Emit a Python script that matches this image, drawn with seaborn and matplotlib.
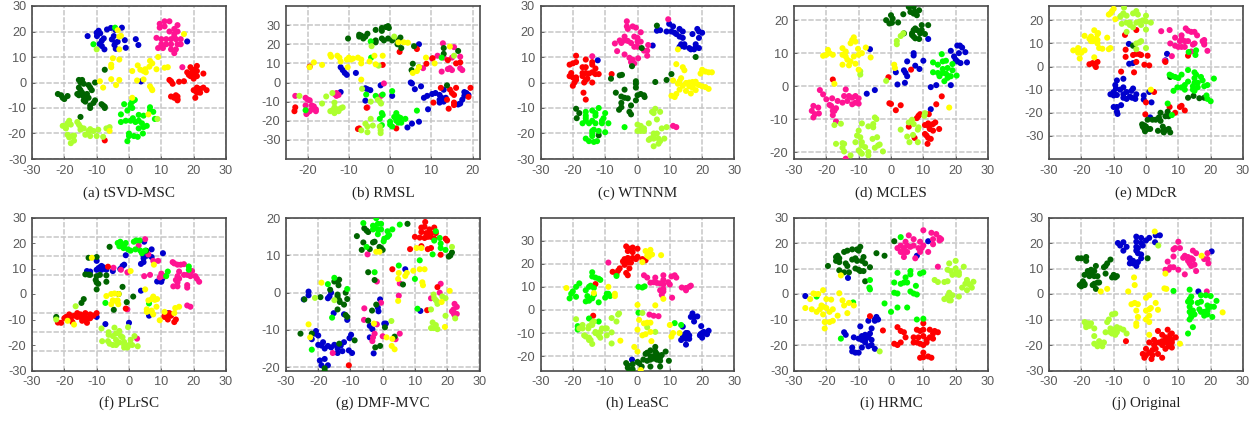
import pandas as pd
import seaborn as sns
import matplotlib
matplotlib.use("Agg")
import matplotlib.pyplot as plt

# colores de las 7 clases
class_colors = {"blue": "#0000cd", "pink": "#ff1493", "red": "#ff0000", "dgreen": "#006400",
                "green": "#00ff00", "lime": "#adff2f", "yellow": "#ffff00"}

# (a) tSVD-MSC
a_blue = [(-12.8,18.2),(-9.9,18.2),(-10,19.5),(-9.4,20.3),(-8.9,19.3),(-6.8,20.8),(-5.6,21.4),(-4.2,20.6),(-2.2,21.5),(-7.8,17.3),(-8.4,16.4),(-4.7,18.2),(-5.3,16.9),(-3.5,16),(-4.2,15.6),(-9.1,15.1),(-8.4,14.3),(-7.6,13),(-4.5,14.7),(-4.1,13.2),(-1.3,16.6),(-1,13.6),(2.1,17),(2.9,14.7),(18,16.1),(3.7,0.4)]
a_pink = [(9.5,23),(11,24),(12.5,24),(9.5,21.5),(11,22),(12.5,20),(14,21),(15,20),(15,22.5),(14,19),(14,18),(8.5,17.5),(10,17),(11.5,17),(13,17),(14.5,17),(16,17),(10,15),(11.5,15),(13,15),(15,15),(16,15),(9,13.5),(10.5,13.5),(13,13),(14.5,13),(14,11.5),(16.5,6)]
a_red = [(19,6),(21,6.5),(20,5),(18,4),(19.5,4),(21,4.5),(23,3.5),(18.5,3),(20,3),(21,2.5),(20,1.5),(19,2.5),(12.5,1),(13,0.5),(13.5,-0.5),(15.5,0.3),(17,0.5),(21,-2),(20,-3),(22,-2.5),(23,-2),(24,-3),(21,-4),(22,-4),(20.5,-6),(13,-5.5),(14.5,-5),(15,-5.5),(15,-6.5),(15,-7),(14,-6),(-7.5,-22.7)]
a_yellow = [(-5,9.5),(-3,9),(-5.5,7),(-5.5,6),(-9,0.5),(-5.5,1.3),(-4,-1),(-3,1),(-8,-2),(1,4.5),(2.7,6.7),(3.5,5),(4.5,4.5),(5.2,4),(5,5.2),(6.3,6.2),(6.5,8.5),(7.2,7.5),(8.5,5.2),(9,10),(11,5.8),(12,6),(2.5,0.8),(4.5,1.2),(6.5,-1.5),(7,-2.5),(7.2,-3),(1,-6),(6,-12.5),(-6,-19),(17,19),(-3.5,20.5),(-3,18),(-2.5,18.3),(-3,13)]
a_green = [(-1.5,-8.5),(0.5,-8.5),(1,-7.5),(1.5,-7),(1.8,-6.8),(0.5,-9.5),(1,-10),(-0.5,-11),(-2.5,-12.5),(6.5,-9.7),(6.5,-11),(7.5,-11.5),(3,-12.7),(4.5,-13),(8,-14.3),(-2.5,-15.5),(-1,-15),(0.5,-15),(1.2,-14),(2,-15.5),(3,-15),(4,-16),(4.5,-17.5),(5.5,-17),(3,-18),(0,-20),(0,-21),(1.5,-21),(2.7,-21.3),(4.3,-20),(-0.5,-23),(-11,15),(-4.3,21.5)]
a_lime = [(8.8,-14.3),(-10,13),(-20.5,-17),(-19.5,-17),(-19,-16),(-18.5,-15),(-18,-16.5),(-19.5,-18),(-16,-15.5),(-15.5,-16.5),(-15,-17.5),(-15,-18.5),(-14,-18),(-12.5,-19),(-12,-18.3),(-11,-19),(-9.5,-18.5),(-13.5,-20.5),(-12,-21),(-10,-21),(-8,-21.3),(-7,-18),(-6,-17.5),(-19,-20.5),(-18.5,-21.5),(-17.5,-21),(-18,-23.8),(-17,-22.8),(-17,-20.8)]
a_dgreen = [(-7.5,5),(-15.5,1),(-14.5,1),(-15,0),(-14,-0.5),(-10.5,0),(-12.5,-1),(-12,-2),(-11.5,-3),(-15.5,-2),(-15,-3),(-14.5,-4),(-16,-4.5),(-15.5,-5),(-14,-5.5),(-13,-4.5),(-12.5,-6),(-14,-7),(-13.5,-7.5),(-10.5,-7),(-11,-8),(-12,-9),(-12,-10),(-8.5,-8.5),(-8,-9),(-7.5,-9.5),(-7.5,-10),(-22,-4.5),(-21,-5),(-20.5,-6),(-20,-6.5),(-19,-5.3),(-15,-13.5)]

# (b) RMSL
b_dgreen = [(-10.2,23),(-7.5,25),(-7.5,24),(-7,24.5),(-6.5,23),(-6,24),(-5.5,25.5),(-3.5,27.5),(-3.5,22),(-3.5,21),(-2,28.5),(-2,27),(-1,29),(-0.5,29.5),(-0.3,28.5),(-2,23),(-1.5,22),(-0.5,23),(0.5,22),(2,22),(2.5,23.5),(2,21),(1.8,20),(2.7,18),(5.8,19),(5.5,9.8),(5.2,6.5),(13,18),(13,15),(16.5,16.5),(13.8,-1.5)]
b_yellow = [(-19.5,8),(-18.5,10.5),(-16.5,9.2),(-14.5,14.5),(-14.3,13.5),(-12.8,14),(-12.3,13),(-12,11),(-10.5,12),(-10,13),(-9.5,12),(-10.3,8),(-9,12.5),(-7.8,13),(-7,12),(-7,10),(-5,11),(-3.8,14),(-3.5,9.5),(-1.8,14),(-7,1.5),(2,21),(3.3,21),(4.3,20.8),(5.5,5),(6.5,6),(7,8),(8.7,13),(10.8,10),(14.5,18.8)]
b_blue = [(-12,8),(-11.5,6.5),(-11,5),(-10.5,4),(-8.3,5),(-12,-5),(-6,-3),(-5.5,-3.5),(-4.8,-4),(-2.3,-1.5),(-6,-9.5),(0.5,-7),(5,0),(5.3,-0.5),(6,-3.5),(7.5,-2),(8.2,-8),(9,-7),(10.2,-6),(11,-5.5),(12,-6.5),(12.5,-8),(12,-9),(12,-10.5),(13,-10),(13.5,-8),(13,-3.8),(9.2,-14),(7,-20.5),(5.3,-21.5),(4.2,-23.5),(7,20),(18,-5),(18.5,-5.5),(19,-6.5),(18,-7),(17.5,-9),(17,-11),(16.5,-11.5)]
b_red = [(-19.5,8.3),(-1.8,9.2),(2.3,16),(6.5,17.5),(8.8,9.8),(10.3,12.7),(14,11.7),(16,10),(17,10.5),(12.3,-2.8),(14.5,-3.7),(16,-2.8),(19.5,-2.8),(15,-5.5),(15.5,-6.5),(13.8,-9),(15.5,-10.5),(15.5,-11.8),(14.2,-13.7),(19,-7.5),(10.5,-10.5),(-23,-13),(-23.2,-15),(-7.5,-24),(-7.8,-24.3),(1.5,-24),(-5.7,-13.2)]
b_pink = [(-23,-7),(-20.5,-8),(-20,-9),(-19.5,-9.3),(-20.5,-12),(-19,-12),(-18.5,-12.5),(-19,-14),(-18,-14),(-18,-15),(-19.5,-15),(-20,-15.5),(-20.3,-16.5),(-13.5,-6),(-13,-5.5),(-12.5,-6.5),(-13,-7),(-1.5,-0.5),(-2.2,-7),(-5.5,-13),(8,7.5),(10.2,12.5),(11.5,14),(12.8,20.5),(13,13),(15,13),(15.5,18.5),(12.5,5.7),(14,7),(14.5,7.5),(15,6.5),(17,7.5),(17.5,6.5),(17,13.5)]
b_green = [(-4.7,21.5),(-4.6,13),(-20.5,-14.5),(-5.8,-6.3),(-3.5,-7),(-1.8,-6.3),(0.5,-4.5),(6.5,-14.7),(-2,-16),(-1.8,-17),(-2,-22.3),(-2.5,-19),(0,-20.5),(0,-22),(0.5,-23),(1,-18),(1.5,-16),(1.5,-19),(2,-18),(2,-21),(2.5,-18.5),(2.7,-21),(3.7,-19),(1.5,-20),(7,8),(12.5,13)]
b_lime = [(-22,-7),(-15.5,-7.3),(-14,-5.5),(-16.5,-11),(-14.5,-15),(-14,-14.5),(-13.5,-10.5),(-13.5,-13),(-13.5,-16),(-13,-14),(-12.5,-15),(-12,-13.5),(-11.5,-13),(-6.8,-3.3),(-4.7,-10),(-3,-9),(-2.5,-10),(-2.2,-11),(-4.7,-19),(-6,-21.5),(-5.5,-23),(-4.2,-22.5),(-7,-25),(-5.5,-26),(-2.5,-23),(-2.3,-25),(-2.3,-26.5),(1,24),(-4.5,19),(-2.8,8.8),(15.5,14)]

# (c) WTNNM
c_blue = [(-12.3,8.7),(4.7,14.5),(6,20.3),(7,20.5),(9,20),(9.8,23),(11,22),(10.5,20),(11.5,19.5),(12,19),(13,21),(14,20),(13,18),(14,17.5),(13.5,15),(14.5,15),(13,14),(14.5,14),(16,13.5),(16.5,13),(17.5,13),(18,15),(18,14),(19,13.5),(17,19),(18.5,21),(19,20),(19,17.5),(20,19.5)]
c_pink = [(9.5,24.8),(-3.3,24),(-3.3,22),(-3,21),(-1.5,22),(-0.5,21.5),(1,19.7),(-7,15.3),(-5.5,16.5),(-5,15.5),(-4,18),(-4,16.5),(-3,16.3),(-2,15.5),(-1,18),(0,17.5),(0,16),(1,16),(-1,14),(0,14),(-6.3,12.3),(-4,11),(-2.5,9.7),(-1.5,9),(-2,8),(-1,7.5),(0.2,9.5),(2,12.5),(3,12.5),(3.3,14.7),(3,10.5),(-14,10.3),(11,-17),(12,-17.5)]
c_red = [(-19,10.5),(-21,7),(-20,7.5),(-19,8),(-16,9),(-14,8),(-14,7),(-17,6),(-16,6),(-13,5.5),(-20.5,3.7),(-19,2),(-17,3.7),(-16,3.7),(-15,3.5),(-14,4),(-13,3.3),(-12,3.3),(-21,2.5),(-20,2),(-19,1),(-20,-1.3),(-19.5,0),(-17,2.5),(-16,1),(-15.5,1.5),(-14,0),(-16.5,0),(-8,3.3),(-16.7,-4),(-16,-6.7)]
c_yellow = [(12,7.2),(14,6),(14.5,4.8),(11,0.8),(13.5,1.7),(13,0.5),(12.5,-0.5),(15,-0.2),(16,0),(17,0.2),(18,0.3),(18,-0.5),(14,-1.3),(16,-1.5),(17,-2),(13,-2.8),(15,-3.3),(18,-3),(19,-1),(20,-1.5),(21,-1.8),(22,-2.5),(16.5,-4.3),(10.5,-5.2),(11.5,-5.7),(12,-4.5),(19.5,3.5),(20,5),(21,4.3),(22,4),(23,4),(12.5,13)]
c_green = [(-4,-17.5),(-16,-11.5),(-16,-13),(-14,-11),(-13,-12),(-12,-10),(-10,-12),(-10.5,-14),(-13,-13),(-14,-15),(-16,-14),(-16,-15),(-17,-16),(-15,-16),(-13,-16),(-11,-15),(-11,-16),(-9,-16),(-13.5,-18.5),(-14,-19),(-12,-19),(-10,-19.5),(-14,-21),(-14,-20),(-16,-22),(-15,-23),(-13.5,-23.3),(-12.5,-23)]
c_lime = [(5.5,-10.3),(4.5,-11.5),(5,-12),(7,-11.5),(6,-14.5),(3.5,-16),(0,-16.5),(1,-17),(1.5,-18),(2,-18),(0,-19),(1,-19),(2,-19),(7.5,-18),(9,-17.5),(5,-20),(6,-20),(5,-21),(4,-22),(5,-22),(3.5,-22.5),(6.5,-22),(7,-23),(8.3,-22),(5,-25),(6.5,-24)]
c_dgreen = [(6,22.3),(1.3,13.5),(-1.7,6.4),(18,10),(-8.2,1.5),(-5.5,2.8),(-4.8,3),(-0.5,0.5),(-0.5,-0.5),(-0.5,-2),(5.5,0.2),(9,1),(10.5,3.3),(-6.7,-4),(-4,-2.8),(1,-4.5),(0,-5),(2,-5),(2.2,-5.7),(-5,-5.5),(-4,-6),(-3,-6.2),(-0.5,-7),(-5,-8),(-2,-9),(-5,-9.7),(-5.7,-10.7),(-2.5,-11.5),(-2,-12.5),(-19,-10.3),(-18,-12),(-18.8,-14),(-12,-20.7)]

# (d) MCLES
d_dgreen = [(-1.5,20),(0,21.5),(0.5,20.5),(-0.5,19),(0.3,19.2),(2.2,19.3),(3.8,21.8),(4,16),(5.5,24),(7,24),(6,22.5),(7,22),(8,21.5),(7.5,22.5),(8.7,23),(7,17),(6.5,16),(6.5,15.5),(7.5,17.5),(8,17),(9.5,18.5),(9.5,17),(11.5,18.5),(7,15),(7.5,14.5),(8.7,14.3),(9,16),(10.5,15.8)]
d_yellow = [(-21,9.2),(-20,9.5),(-19.5,11),(-19,10),(-18,9.5),(-15,9.5),(-15,11.5),(-14,10.5),(-14,9),(-13.5,8),(-12.5,7.5),(-12.5,13),(-12,14),(-11.5,14.8),(-11,13.5),(-11.5,9),(-10.2,11.3),(-10,9.5),(-9,10),(-7.8,11.7),(-6.3,8.7),(-15,6.5),(-13,6.3),(-11,6.8),(-10,5),(-17.5,0.7),(1,6.5),(1.2,5.5),(18,-6.5)]
d_blue = [(-6.5,11.2),(7,10),(7,9.3),(5,7.5),(4,4.8),(4.5,4),(5,3),(1.5,4.2),(2,0.5),(4.3,1),(7.5,6.2),(8.8,5.2),(10,7.7),(11.5,14.3),(12.3,-0.3),(14,0.3),(18.5,0.3),(18.5,10.7),(19.5,9),(20,8),(20.5,12.3),(21.3,12.3),(22,11.7),(23,10.3),(21,10),(20.5,7.5),(21.5,7),(23.5,7.2),(-7.5,-2.3),(-5,-1.2),(12.3,-7)]
d_green = [(15.7,9.7),(13,7.2),(14.5,6.5),(16,7.5),(17,7.7),(19,6.7),(13,4.2),(14.5,4),(15,3),(16,5.2),(16,4),(17,3.8),(17.5,5.5),(18,3),(19,4.8),(20.3,3.2),(16.5,1.5),(17.5,2.5),(18.5,3)]
d_red = [(-18,2),(-0.8,2.7),(6.2,5),(-0.5,-5.2),(0,-5.4),(3,-5.8),(1.5,-7.3),(15.7,-3.1),(14,-5.5),(9,-8.5),(8.5,-9),(8,-9.7),(11.7,-8.5),(10.5,-11.8),(11.5,-11.3),(11.7,-12.2),(13,-11.5),(13.7,-11),(12,-13),(13,-13.5),(14.9,-13),(10.5,-14.5),(11,-15),(11.5,-15.7),(12.3,-16),(11.3,-17.5),(7.3,-15.7),(5.5,-12.3)]
d_pink = [(-22,-1.2),(-21,-2.5),(-20,-4),(-18.2,-3.7),(-16.5,-4.5),(-15,-5),(-14.5,-3),(-14,-1),(-13.5,-4.5),(-13,-3),(-12,-5.5),(-12,-3.5),(-11,-3),(-10,-3.7),(-11,-5),(-10,-5.3),(-17,-6.7),(-17.5,-7.5),(-19,-5.7),(-18.5,-6),(-18,-7.5),(-18,-8.8),(-22.5,-6.5),(-24,-6),(-24.5,-7.5),(-24,-9.5),(-23.5,-8.5),(-22.3,-8.3),(-17,-10.7),(-14,-22)]
d_lime = [(-1.5,1.6),(1.8,13.7),(1.8,12.7),(3,15.2),(3.8,16),(-9.5,4.5),(-9.5,3.5),(-17.5,-11.8),(-15.5,-11.4),(-9,-11.3),(-7,-12.2),(-5,-9.5),(-4.5,-10),(-5.5,-11.5),(-5.5,-12.5),(-10,-13.5),(-10.5,-15),(-9.5,-15.5),(-11,-17),(-9,-17),(-9,-18),(-8,-18.5),(-5.7,-16),(-4.3,-15.5),(-5,-18.7),(-3.5,-17.7),(-4,-18),(-2.5,-19.8),(-17,-17.5),(-15,-17.3),(-14.5,-17.5),(-15,-18.7),(-14.5,-19.8),(-10,-19.5),(-9.5,-20),(-7,-20),(-7,-21),(-12.5,-21),(-9,-20.5),(3,-13.2),(5,-15.3),(5.7,-17),(6.8,-14.8),(8.3,-17),(8.3,-13.2),(8.5,-12.5),(5.5,-11),(6.5,-10.2),(7,-11.5),(10.5,-8.2),(10.3,-9)]

# (e) MDcR
e_yellow = [(-10,25),(-11,23),(-11.5,22.5),(-10.5,24),(-9.5,20.5),(-19,13.3),(-17.5,12),(-17,13),(-16.5,11),(-16,15.7),(-15.5,12),(-15,11.5),(-15,14),(-15,10),(-14.8,14.5),(-17,11),(-12,12.5),(-14.5,8),(-13.5,7.7),(-11.5,7.5),(-11,8),(-22.5,7),(-21,8),(-21,7),(-20,6),(-19,7),(-21,6),(-20.5,3.5),(-16,4),(1.5,-10)]
e_lime = [(-6.8,25.5),(-7,23),(-8,21.5),(-7.7,22),(-6,22),(-4,23),(-3,24),(-2.5,22.5),(0,22),(-7.5,18.5),(-6,19),(-5,19),(-5,18),(-4,17),(-3,19),(-2,19.5),(-1,20),(0,19.5),(1.5,19),(-1.5,18),(0,16),(-6,15),(-1.5,11),(-2,10.5),(-3,10),(0,8),(-3,7.5)]
e_pink = [(4.7,15.3),(7.3,15.8),(9,12.5),(12.3,16.5),(13,15.5),(14,15),(15,15),(15.8,13.5),(11,13.5),(11,12),(12,11),(13,11),(14.5,9.5),(15,10),(7.5,10),(9,9),(10,8.5),(11,8.5),(10.5,11),(12,8.5),(8,4.5),(14,6.5),(17.5,11),(18,11.5),(18,10),(19,6.8),(18,9.5),(5.8,2.5)]
e_red = [(-6.5,13.7),(-3,15.8),(-6.3,7.3),(-6.3,4.2),(-4,5),(-3,5.5),(-2,5.3),(-1.5,5),(0.5,4.7),(-3,2),(-0.5,0.8),(1,0.5),(-17.5,1),(-16.5,1.5),(-16,1),(-15,2),(-15.5,-0.2),(-7.7,-2.2),(-3.7,-2.5),(6,2),(13,4.7),(2.5,-11),(0,-15.5),(-0.2,-20.7),(7.3,-17.5),(9,-20),(10.5,-17.5),(11,-17),(12,-19)]
e_blue = [(-5.3,9.8),(-5.2,1.2),(-4,1.5),(6.5,5.5),(6,2.7),(1,-11),(-0.7,-12.5),(-0.7,-14.3),(-9,-6),(-9.5,-8),(-9.3,-9.5),(-7,-5.3),(-7,-9),(-8,-10),(-4,-9.5),(-4.5,-10.5),(-11,-12),(-10,-11),(-10,-12.5),(-9,-12.3),(-7,-12),(-6,-11),(-3,-12),(-7,-13.5),(-6,-14),(-5,-13),(-4.3,-13.5),(-3.3,-14),(-10,-17.5),(-9,-17.5),(-7.7,-16.7),(-9,-19.5),(-8.8,-20.5),(1.7,-15.5),(1.3,-22)]
e_green = [(7.3,-3.5),(8,-4),(9,-4.5),(10,-5),(11,-3.5),(13,-1.5),(15,-2.5),(15.5,-3.5),(15,-5),(17,-4.5),(17.5,-6),(21,-5.2),(15,-7),(14.5,-8.5),(14.5,-10),(16,-9),(15,-10.5),(18,-8.5),(19,-8),(12,-8),(11,-9),(12,-10),(9.7,-9),(8.5,-10.5),(6.7,-16),(8,-21),(18.7,-12.5),(19,-14),(20,-15),(13,-6.5),(16,-7),(13.2,6.3),(15.5,7),(15.3,5)]
e_dgreen = [(7.5,-4.5),(-4,9),(13,-13.5),(14.7,-12.7),(16.5,-13.7),(18,-13.5),(0.5,-23),(2,-23),(3,-23),(4.5,-20),(4,-22),(4.5,-23.5),(6,-21.5),(6.7,-19.5),(7,-21.5),(-1.2,-25),(-0.5,-25.5),(0,-26),(-1,-26),(-0.5,-27),(0.5,-27),(1.3,-27),(-0.3,-28),(3.7,-27.8),(5.2,-26),(5.3,-28),(6,-27.5),(7,-27),(7.5,-28.5),(5.5,-28.5)]

# (f) PLrSC
f_green = [(-3.5,20),(-2.7,20.5),(-2.5,19),(-3,18.7),(-1,20),(-1.5,19),(-1.7,18),(-0.3,17.5),(0.5,17),(1.5,20.5),(2.2,21),(3.3,21),(2,17.5),(3.5,17),(4,16),(5,17),(12,8.8),(18.5,10.8),(18.5,9.5),(11.5,7),(-7.3,-3.5),(6.2,-3.7)]
f_pink = [(5,21.5),(3,19),(6,15.5),(7.5,13),(9,13),(-4.8,10.3),(-2.5,9.5),(-0.5,8.5),(4.7,7),(6.5,7.5),(9.5,6.5),(10,7),(10,8),(11,7),(13.5,12.5),(14,12),(15,11.5),(16,11.5),(17,11.7),(15.5,8.8),(15,7),(15.5,6),(14.5,5.5),(15,4.5),(13.7,3),(15,3),(17,7.5),(18,7.5),(19,7),(19.5,9),(20.5,7),(21,6),(21.7,4.8),(18,3.5),(18,2.5),(18,-4.5),(19,-5),(-0.5,-6),(2.5,-17.5)]
f_blue = [(4.7,20.5),(7,17.5),(10.5,16),(4.5,15),(5.5,15),(-1,15.2),(4.5,14),(4.5,12.5),(3.7,11.8),(7,14.5),(-1.5,11.5),(-2,11),(-2.7,9.8),(-5,9),(-12,8.8),(-13,9),(-10,9.5),(-9.5,10),(-9,10.5),(-8.5,11),(-8,10.5),(-7.5,10),(-8.5,9.5),(-7,9.5),(-10,13),(8.7,4.9),(9.5,5),(10,4.8),(10.3,6),(3.7,1.3),(-10,-9),(-7.3,-11.8),(0,-11.3),(6.2,-8.5),(12,-7.5)]
f_dgreen = [(-12.5,14.2),(-10,14.5),(-13.5,7.7),(-12.5,7.6),(-12,7.5),(-10,7),(-9,7.5),(-7,7.3),(-10.3,5.5),(-10,4.5),(-9.5,4),(-7,4.8),(-10,1.8),(-6,18.5),(5.3,17),(-2,2.8),(-3.2,0),(-14,-2),(-14.7,-3.5),(1.3,-1),(-0.7,-3.2),(-4.7,-6.2),(-22.5,-9)]
f_red = [(-6.5,10.7),(-1,-5.7),(-22,-11.2),(-21,-11.3),(-20,-9.5),(-19.5,-9),(-18.5,-8),(-18.5,-9.5),(-18,-10),(-17.5,-11),(-17,-8.5),(-16,-7.5),(-16,-9),(-15,-8),(-15,-9),(-14.5,-10.5),(-13.5,-7.5),(-13.5,-9),(-13,-10),(-13,-11.3),(-12,-8),(-12,-9.5),(-11,-8.5),(-10,-7.5),(12,-8.8),(12.5,-7.5),(11,-8.5),(11,-9),(13,-8.5),(14.5,-10),(14,-11),(12,-10)]
f_yellow = [(-11.5,14.2),(-7,-0.8),(-5.5,0),(-4.5,0.2),(-3.2,0),(-5,-2.5),(-4,-2.8),(-3.5,-2.5),(-3.3,-4),(-5.5,-4),(5,1.8),(7.5,-1),(7,-2),(8,-2.3),(8.7,-2),(6,-2.5),(8.5,-5),(5.5,-6),(5.5,-7),(7,-7),(7.5,-8),(9.5,-10.3),(7,-6.5),(11,-7),(14.3,-5.5),(15.5,-5),(14,-7.5),(-19,-10.5),(-17,-12),(0.5,9),(7.7,11.5)]
f_lime = [(-16.5,-4.8),(-22.5,-10),(-8.5,-13.5),(-4.5,-13.2),(-0.3,-13),(-6.3,-15),(-6.3,-16),(-5,-16.5),(-4,-15.5),(-3,-14.5),(-2.5,-16.5),(-2,-17),(-8.3,-18.5),(-6.5,-18.5),(-6,-19.5),(-5,-20),(-4,-20),(-3,-19),(-1.5,-18.8),(-1.5,-20),(-1.5,-21),(-0.5,-21),(0,-20),(0.5,-18),(1,-20),(1.7,-16.5),(2.7,-20.5),(-4,-18)]

# (g) DMF-MVC
g_green = [(-6,18.7),(-2,20),(-3,18),(-2.5,17.5),(-3,17),(-1.5,18.5),(-0.5,18.5),(-1.5,17),(-1.5,15.7),(-0.5,17),(1.5,16.5),(2,15.5),(1.5,15),(0.5,14.5),(0.3,13.8),(3,17),(5.3,18.3),(-5,12.3),(16.5,16.5),(17.7,14.7),(16,14),(18,13.2),(18,12),(19.5,11.5),(15.5,10.3),(11.5,8.7),(5,7.3),(-2.5,5.5),(10,3.7),(-15,4),(-17,2.3),(-11,1),(-15.7,-6.7),(-22,-15.3),(10.8,-4.3)]
g_dgreen = [(7.7,18.5),(-8,15.2),(-5.7,17.3),(-5,16.7),(-4.5,16.3),(-6,13.5),(-4,11.7),(-6.5,11.5),(-3,13.5),(-2.5,13.7),(-1,12.3),(-0.5,12),(0,11.5),(20.5,9.7),(21,10),(21.5,10.8),(-4.5,5.5),(-2.5,3.4),(6.3,2.2),(-15,3),(-14,3),(-13.5,3.5),(-13.7,2),(-16.3,0.8),(-19.3,-1.2),(-14,-0.5),(-14,-1),(-13.5,-2),(-11.5,0),(-11,-1.7),(-13.3,-2.5),(-12,-3.2),(-14,-4.5),(-11.5,-6),(-11,-6.5),(-24.3,-1.8),(-2,-3.2),(-3.3,-4.8),(-4.5,-7.5),(0.7,-9.3),(3.7,-11.8),(-25.5,-11),(-22,-11),(-13.5,-13.7),(-8.7,-12.8),(-2.3,-14.7),(-0.8,-14.3),(-18,-20.3),(-18,-21)]
g_red = [(13.2,19),(12,17.5),(13,17.7),(14.5,17),(16,17.5),(12,16.3),(13.5,16),(15,16),(16.5,16),(10,15),(11.5,14.8),(13,14.7),(14,15),(15,15),(16,14.5),(20,14),(19.5,14.5),(8.5,11.7),(12,12.5),(14,11.7),(15,12),(18,10.2),(3,6.3),(17,1.5),(13.8,-4.7),(-10.5,-19.5)]
g_blue = [(-23,0.3),(-23,-0.7),(-24.5,-1.8),(-17,-1.5),(-16.5,-1),(-16,0),(-15.2,-5.5),(-12,-5.8),(-11,-7.3),(7,6.3),(-0.8,-1.8),(-1.5,-4),(-1.3,-5),(0.5,-8.3),(1,-8.3),(11.7,-4.9),(-4,-8.9),(-3.2,-9.8),(-4,-12),(-20.7,-10.3),(-21,-11),(-20,-11.5),(-22,-12.5),(-9.8,-11.3),(-10.3,-12.2),(-20,-14),(-19,-14.2),(-18.5,-13.3),(-18,-15),(-17,-14.3),(-16,-14.7),(-15,-14),(-14,-15),(-14,-16.2),(-13,-14.2),(-12.5,-15.7),(-12,-13.3),(-10.5,-15.5),(-9.5,-16.2),(-19.5,-18.2),(-18,-17.8),(-19,-19.5),(-17,-19.5),(-2.8,-16.3)]
g_pink = [(-4.7,10.3),(-5.7,-4.2),(-5.8,-7.3),(-1.8,3),(5.3,2.5),(5,-0.8),(-0.5,-2.7),(-1.8,-8.5),(0,-11.7),(-2.5,-11),(-3,-12),(-3.2,-13),(4,-12.5),(5.3,-11),(18,2.4),(15,-1.5),(17.7,0),(22.3,-3),(23,-3.8),(22,-4.5),(22,-5.5),(21.5,-5),(22.3,-6),(23,-5.7),(-15.5,-16.2)]
g_yellow = [(-19,2.7),(-23,-8.5),(-22.5,-12),(-2.7,-8.3),(5,5.3),(7,4.5),(7.5,5.3),(9.5,5.9),(11.5,6.3),(13,6.3),(10.5,12),(12,12),(-2,11),(-1,11),(4.8,3.7),(12.3,2.8),(12.5,2),(4.8,-2.2),(1.2,-12),(3,-12.4),(2.8,-14.3),(3.7,-15.2),(18.3,-2.5),(20.8,0.5),(19.3,-9.2)]
g_lime = [(-21,-1.4),(-15,-2),(2.7,-7.6),(15.8,-0.5),(16,-1.5),(16.5,-2),(17,-2.5),(17,-3),(18.5,-1),(19.5,-1.5),(15,-4.5),(21.5,12.3),(19.5,-6.2),(22.5,-6.9),(15.5,-8),(16.5,-8.7),(15,-9.5),(15.8,-9.5),(17,-9.8)]

# (h) LeaSC
h_red = [(-3.5,27.5),(-2.5,26.5),(-1.5,27),(0,26.5),(-3,25.5),(-1.5,25),(-3,22.5),(-4,22),(-1.5,22.5),(-0.5,22),(0,23),(1.5,22),(2.5,21.5),(-4.5,21),(-4,19.5),(-3,20.5),(-2,20.5),(-2.5,18),(-5.5,18),(-6,17),(-7.7,16.5),(-6.5,15.5),(-3.5,16),(-3,15),(-13,11.2),(-13.7,-2.5)]
h_pink = [(-9,20.5),(2,15),(3,14),(4,11.8),(5.5,14),(5,12),(6,11.7),(7,11.5),(8,15),(8,13),(8,11),(9.5,12),(10,11),(10.5,14.5),(11.5,15),(12,14),(8,9),(7,8.5),(8,8),(7.5,6.5),(10.7,5.3),(13.7,9.7),(15,9.5),(15,8.5),(16,10),(16.5,10.5),(3.7,-2),(5,-2.5),(6.5,-2.7)]
h_yellow = [(2.5,25.5),(4,26),(3.5,24.5),(3,23.5),(4,24),(4.5,24),(3.5,23),(7.3,23.7),(1.5,20.7),(-22,9.5),(-13.5,7.3),(-9,10),(-7,7),(-7,6),(8,4.8),(0,2.2),(5.5,2),(0.5,-4.3),(2,-5.8),(3,-5.5),(4,-5.5),(0,-8.5),(1.5,-11),(2.5,-10.5),(4,-9.5),(4.3,-13.5),(-5.3,-13.3),(10,-6.5),(11,-10),(10.5,-11.5),(13,-10),(-1,-16),(0,-18),(1,-26)]
h_green = [(-14,16.3),(-14,14.5),(-13,14),(-12,13.5),(-11.5,13),(-6.5,14.7),(-18,11.5),(-19,10),(-20,8),(-20.5,7),(-21,5),(-19,5.7),(-16,8.5),(-15,10),(-14.5,10.5),(-13.5,9.5),(-15.5,6),(-15,5),(-14,5),(-13.5,6.5),(-16,3.7),(-15,4),(-12,3.3),(-10,5.3),(-9.5,7),(-9,7),(-8.5,6),(0.3,10),(1.5,9.7),(2.2,10.2),(0.3,-1.2),(-15,-3.7),(-12,-5),(-18.5,-7),(-18.5,-8.5),(11.5,-5.7),(13.5,-6.5)]
h_lime = [(-19,-4),(-17,-6.5),(-17,-8),(-18,-8),(-14,-5.5),(-13.5,-5),(-15,-7),(-15.2,-8),(-14,-6.5),(-8,-3.5),(-6.5,-5),(-5.7,-1.5),(-6,-2),(1.5,-1.3),(3,-7.5),(5.5,-9.5),(-16.5,-11),(-16,-11.5),(-15,-12),(-14.5,-13),(-14,-14.7),(-15,-13),(-13,-10),(-13,-9.5),(-12,-11),(-11.5,-12),(-11.5,-9.5),(-11,-8),(-10,-8),(-9.5,-8),(-9.5,-11),(-8,-9.7),(-8,-14.5)]
h_blue = [(17,-1.5),(16.5,-3),(17.5,-3),(18.5,-2.8),(17.5,-5),(14,-7.2),(19.7,-7),(15,-10),(15.5,-10),(14,-11),(14.5,-11),(16,-11),(13.5,-13),(15,-12.5),(16,-12.5),(15,-15),(19.5,-10.5),(20,-10),(20.5,-9.5),(21,-10),(22,-9),(21.5,-10.5),(20,-12),(19.3,-11),(-1.7,-21.5)]
h_dgreen = [(5.5,-16),(4,-17.5),(5.5,-18),(8.7,-18),(3,-18.5),(2.5,-19),(6,-19),(7.5,-19.5),(4,-20),(5,-20),(6,-20.5),(7,-20.5),(1.8,-21.5),(3,-22),(4,-21.5),(5,-21),(6,-21.5),(7,-22),(9.7,-22),(0,-22.5),(0.5,-23),(-3.5,-23),(-3,-24),(-1.5,-23.5),(-3,-25),(-2.5,-26),(-1.5,-25.7),(1.3,-24.5),(4,-24.5),(7,-24.5)]

# (i) HRMC
i_pink = [(5.5,23),(7,21.5),(10,25),(12.5,24),(14,23.5),(15,22),(15.5,21.5),(15,21),(13,21.5),(9,20.5),(10,19),(4.5,20.5),(3,19),(2,18),(4,18),(5,19),(6,18.5),(7,19),(8.5,18),(9.5,18),(13,19.5),(9,16.5),(11.5,16.5),(3,16.5),(4,16),(5,16.5),(4,14.5),(7.5,14),(14.5,10.7)]
i_green = [(3,22.3),(2,8.3),(6,9),(6,7.7),(4.5,6.5),(9,8),(10,8.5),(1,4.5),(3,4),(4,4.5),(5,4.5),(7.7,3.2),(1,0.5),(2,0.2),(6,1),(7,0.2),(8,-0.2),(-23,-1),(-11.7,-3.3),(-2,-3.7),(0,-7),(5,-5.3),(8,-10),(10,-9.7),(-15.5,-17.5),(-6.5,5.5),(-6.7,2.5),(-6.5,1.8),(2,-5.3)]
i_dgreen = [(1,20.7),(-2,15),(-4.5,16),(-14.5,16.5),(-13.5,17),(-12,17.5),(-10.5,17.5),(-9.5,18.5),(-10,17),(-17,14.5),(-16.5,15),(-16,14),(-17,13),(-16,12.5),(-12,13.5),(-11,14),(-10.5,13),(-8.5,14.5),(-9,13),(-8,12),(-14,12),(-13.5,11),(-19.5,11),(-16,9.3),(-11,10),(-10,9.5),(-9.5,9),(-8.5,9),(-6.5,10.5),(-14.5,8.5),(-13,8.5),(-8,5)]
i_lime = [(20,13),(18,12),(17.5,9.5),(18.5,9),(20,10),(22.5,10.7),(19,7.5),(20,8),(21,8.5),(21,7.5),(13.5,5.5),(14.5,4.7),(16.5,4.7),(17.5,5),(23.5,5.5),(23,4),(24,4),(25.5,4.8),(24.5,3.5),(22,2.5),(23.5,1.5),(25,2.5),(18,0.5),(17.5,-1),(19,-0.5),(16.5,-2),(18,-2.5),(18.5,-2.5),(21,-1),(-3.5,-22.5)]
i_yellow = [(-15.5,7.3),(-24,0.2),(-23.5,0),(-22.5,0),(-21,1.5),(-25,-2),(-16,0.3),(-15,-2.5),(-26.5,-5.5),(-24.5,-6),(-23,-7),(-21,-5),(-21.5,-4.5),(-20,-5.5),(-20,-2),(-18.5,-2.2),(-22,-6),(-21,-8),(-19,-7),(-18,-6),(-14.5,-4.5),(-13,-3.5),(-13.5,-7.5),(-11.5,-4.5),(-16.5,-8.5),(-20.5,-11),(-19,-11),(-18,-10.5),(-20.5,-13.5)]
i_blue = [(-26.5,-0.8),(-13.3,6.3),(8,15),(11.5,20.7),(-5,-10),(-4,-10),(-4.5,-9),(-5,-10.5),(-7,-10.5),(-6,-13.5),(-9.5,-12.7),(-6.5,-15.5),(-8,-16),(-7,-17),(-9,-16.5),(-14.5,-15),(-14,-16),(-11.5,-17),(-10,-17.5),(-9,-18),(-8,-18),(-8,-19),(-6,-18),(-7,-20.5),(-6,-20),(-5,-21.5),(-12,-21),(-11,-23),(-12,-22.5),(-10,-23),(-9,-21)]
i_red = [(-6.5,-8.7),(-2.5,-14.3),(2,-13),(3,-14.5),(4,-15),(4.5,-17),(8,-14),(9,-14.5),(10,-14),(10,-11.5),(12,-14),(13.5,-14.5),(13,-15.5),(14.5,-15),(12,-17),(10,-16.5),(7,-17),(8.5,-17),(11,-18),(13,-17.5),(1,-19.5),(2,-20),(3,-19),(7,-19),(8,-19),(9,-19.5),(10,-20),(11,-19),(10,-23),(9,-25),(10,-24.8),(11.5,-24.5),(12.5,-25)]

# (j) Original
j_blue = [(-8.7,20),(-7,20.3),(-8,19),(-6,18.5),(-7,17),(-3,22.5),(-1.5,22),(0,21),(1,22),(-3,20.5),(-1.5,20),(-1,19),(-3,18.5),(-2.5,18),(-3,17),(-2.5,16),(-1.5,15.5),(-5,14),(-1.5,14),(-5,12),(-4,12),(-3,12),(-3,11),(-4,13),(-2.5,12.5),(2.8,20.3),(3,23),(4.3,23),(16.2,1),(20.3,16.7)]
j_pink = [(10,20.5),(8.5,17.5),(9,18),(10.5,18),(8.5,14.7),(11.5,14.2),(12,15),(14.5,17),(15.5,16),(13,14.5),(14,14),(14.5,13.5),(13,13),(13.5,12),(14,11),(15,11.5),(6.7,12.7),(18,13.7),(19,13.7),(19,16),(19.3,12),(6,9.5),(7,9.5),(7.5,10.5),(8.5,10.5),(10,9.5),(12,7.7),(15.5,9),(18.8,1)]
j_yellow = [(2.7,24.5),(17.2,15),(6,8),(-3.7,6.5),(-3.5,3.5),(5.7,2.2),(6.3,2),(-5.5,1),(-14,1),(-12,2),(0,-1.5),(1,-0.5),(-4.5,-4),(-3.5,-3.5),(-2.5,-4),(3,-3.5),(-3,-6.5),(0,-6.5),(1,-6),(1.5,-5.5),(3.7,-6.2),(-2.5,-9),(1,-8.5),(0,-10),(1,-11),(-3,-11.5),(-3,-12.5),(1,-16),(10.5,-19.5),(23.7,-7.2)]
j_green = [(8.5,1.2),(13.5,1.7),(17,-0.5),(18.5,-0.5),(20,-0.8),(14,-1),(13.5,-2),(13,-3),(14,-3.2),(16,-3.5),(17,-3),(21.8,-2.7),(19,-4.5),(20,-5),(21,-5),(13.5,-5),(16.5,-6),(17,-7),(18,-7),(19,-6.5),(14.5,-6.5),(13.5,-7),(14,-8),(15,-8),(18,-8.5),(19,-8),(20.5,-9),(14,-9),(13.5,-10),(14.5,-13),(13,-15.5)]
j_red = [(-6.2,-18.5),(3.7,-14.5),(6.7,-14),(5,-16),(7.5,-16),(8,-15.5),(9.2,-17),(6,-17),(7,-17.5),(8,-18),(1,-19),(2.5,-18),(3,-19),(4,-19),(5,-18.5),(6,-19),(7,-19),(8,-19),(2.5,-20),(5,-20),(7,-20.5),(8,-21),(0,-21.5),(2,-22),(3,-21.5),(6,-21.5),(-1,-23.5),(0,-24),(1,-23),(2,-24),(3.7,-23.5),(-0.5,-25),(1.7,-25.5),(5,-25)]
j_lime = [(3.8,19),(-19,-11),(-18.5,-12),(-18,-11.5),(-18.5,-13),(-17.5,-12.5),(-17,-11.5),(-16,-13.5),(-10.5,-8),(-9.5,-7.7),(-11.5,-10),(-12,-11),(-16,-16.5),(-16,-19.5),(-15,-20.5),(-14.5,-18.5),(-14,-19.5),(-13.5,-20.5),(-13,-19),(-12.5,-15),(-11,-13.5),(-10,-14),(-9,-13),(-8,-13.5),(-7,-14),(-6,-15.5),(-11,-15),(-10.5,-15.5),(-10,-15),(-9.5,-16),(-9,-15)]
j_dgreen = [(0.5,14),(-21,14),(-20,14),(-18.5,14.5),(-18.5,13),(-11,13.5),(-12,12),(-12.5,11),(-13,10.5),(-15.5,11),(-16,9),(-17,9.5),(-18,9),(-19,7.5),(-17,8),(-17.5,7),(-16,7),(-15,7),(-10,7.5),(-9.5,6.5),(-10.5,6.5),(-9,7),(-12.5,8),(-19.5,5),(-20,4),(-19,4),(-20.5,3.5),(-20,3),(-19,3.5),(-16.5,3.5),(-16,4),(-15,4.5),(-14.5,4.5),(-15.5,2)]

captions = ["(a) tSVD-MSC", "(b) RMSL", "(c) WTNNM", "(d) MCLES", "(e) MDcR",
            "(f) PLrSC", "(g) DMF-MVC", "(h) LeaSC", "(i) HRMC", "(j) Original"]
panel_keys = "abcdefghij"
ticks_30 = [-30, -20, -10, 0, 10, 20, 30]

# limites de cada panel: xlim, ylim, xticks, yticks
limits = {
    "a": ((-30, 30), (-30, 30), ticks_30, ticks_30),
    "b": ((-25.25, 21.8), (-40, 40), [-20, -10, 0, 10, 20], ticks_30),
    "c": ((-30, 30), (-30, 30), ticks_30, ticks_30),
    "d": ((-30, 30), (-22.1, 24.3), ticks_30, [-20, -10, 0, 10, 20]),
    "e": ((-30, 30), (-40, 26.2), ticks_30, [-30, -20, -10, 0, 10, 20]),
    "f": ((-30, 30), (-30, 30), ticks_30, ticks_30),
    "g": ((-30, 30.2), (-20.9, 20.2), ticks_30, [-20, -10, 0, 10, 20]),
    "h": ((-30, 30), (-26.2, 40), ticks_30, [-20, -10, 0, 10, 20, 30]),
    "i": ((-30, 30), (-30, 30), ticks_30, ticks_30),
    "j": ((-30, 30), (-30, 30), ticks_30, ticks_30),
}

# cajas de ejes en pixeles
lefts = [32, 286, 540.5, 794, 1049]
width_px, height_px = 194, 153
row_tops = [6, 217.5]
caption_y = [193, 403]

grid_style = dict(color="#c6c6c6", linestyle=(0, (3.5, 1.2)), linewidth=1.1)

sns.set_theme(style="white")
plt.rcParams["font.family"] = ["Liberation Sans", "DejaVu Sans"]
plt.rcParams["axes.unicode_minus"] = False

W, H = 1260, 421
fig = plt.figure(figsize=(W / 100, H / 100), dpi=100)
fig.patch.set_facecolor("white")

for i, key in enumerate(panel_keys):
    row, col = divmod(i, 5)
    left, top = lefts[col], row_tops[row]
    ax = fig.add_axes([left / W, 1 - (top + height_px) / H, width_px / W, height_px / H])

    rows = []
    for cls in class_colors:
        for x, y in globals()[f"{key}_{cls}"]:
            rows.append({"x": x, "y": y, "cls": cls})
    df = pd.DataFrame(rows)
    sns.scatterplot(data=df, x="x", y="y", hue="cls", palette=class_colors, s=19,
                    linewidth=0, legend=False, ax=ax, zorder=3)

    xlim, ylim, xticks, yticks = limits[key]
    ax.set_xlim(*xlim)
    ax.set_ylim(*ylim)
    ax.set_xticks(xticks)
    ax.set_yticks(yticks)
    ax.set_xlabel("")
    ax.set_ylabel("")
    ax.tick_params(axis="both", labelsize=9.2, labelcolor="#5a5a5a", color="#555555",
                   direction="in", length=2, width=0.6, pad=4, left=True, bottom=True)
    ax.grid(True, **grid_style)
    if key == "f":
        # en este panel la rejilla no coincide con las etiquetas
        ax.grid(False, axis="y", which="major")
        ax.set_yticks([-22.5, -15, -7.5, 0, 7.5, 15, 22.5], minor=True)
        ax.tick_params(axis="y", which="minor", length=0)
        ax.grid(True, axis="y", which="minor", **grid_style)
    ax.set_axisbelow(True)
    for spine in ax.spines.values():
        spine.set_visible(True)
        spine.set_color("#4a4a4a")
        spine.set_linewidth(1.2)

    fig.text((left + width_px / 2) / W, 1 - caption_y[row] / H, captions[i], ha="center", va="center",
             fontsize=10.9, color="#222222", family=["Liberation Serif", "DejaVu Serif"])

fig.savefig("out.png", dpi=100)
